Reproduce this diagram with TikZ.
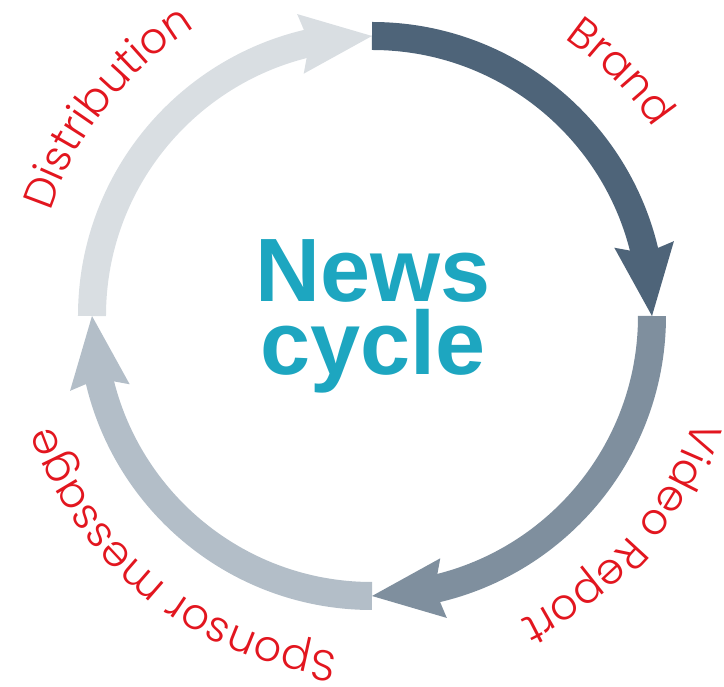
\documentclass[tikz,border=0pt]{standalone}
\usepackage{fontspec}
\setmainfont{Liberation Sans}
\newfontfamily\labelfont{Poppins Light}
\usetikzlibrary{arrows.meta,bending,decorations.text}
\definecolor{slateA}{HTML}{4E6479}
\definecolor{slateB}{HTML}{7F8F9E}
\definecolor{slateC}{HTML}{B3BEC8}
\definecolor{slateD}{HTML}{D9DEE2}
\definecolor{newsteal}{HTML}{1DA6C0}
\definecolor{labelred}{HTML}{E2161F}
\tikzset{
  seg/.style={line width=28pt, -{Stealth[length=72pt,width=60pt,inset=9pt,line width=0pt,flex]}},
  lbl/.style={decorate, decoration={text along path, text align=center}},
}
\newcommand{\lblfmt}{\labelfont\fontsize{43}{43}\selectfont\color{labelred}}

\begin{document}
\begin{tikzpicture}[x=1pt, y=1pt]
  \useasboundingbox (-372,-371) rectangle (352,316);

  % the four segments of the cycle
  \draw[seg, slateD] (180:280) arc[start angle=180, end angle=90, radius=280];
  \draw[seg, slateA] (90:280) arc[start angle=90, end angle=0, radius=280];
  \draw[seg, slateB] (0:280) arc[start angle=0, end angle=-90, radius=280];
  \draw[seg, slateC] (-90:280) arc[start angle=-90, end angle=-180, radius=280];

  % centre title
  \node[font=\fontsize{90}{73}\selectfont\bfseries, text=newsteal, align=center] (title) at (1,0) {News\\cycle};

  % labels round the outside
  \path[lbl, decoration={text={|\lblfmt|Brand}}]
    (89.5:338) arc[start angle=89.5, end angle=-0.5, radius=338];
  \path[lbl, decoration={text={|\lblfmt|Video Report}}]
    (4:338) arc[start angle=4, end angle=-86, radius=338];
  \path[lbl, decoration={text={|\lblfmt|Sponsor message}}]
    (-83.5:338) arc[start angle=-83.5, end angle=-173.5, radius=338];
  \path[lbl, decoration={text={|\lblfmt|Distribution}}]
    (186.8:338) arc[start angle=186.8, end angle=96.8, radius=338];
\end{tikzpicture}
\end{document}
